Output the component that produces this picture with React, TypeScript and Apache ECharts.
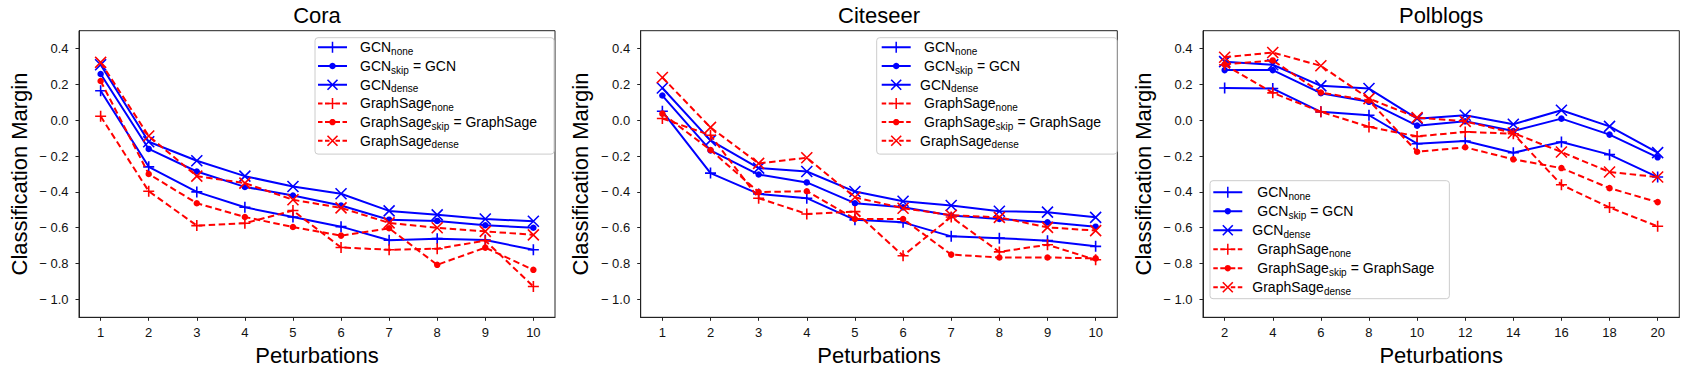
import React, { useEffect, useRef } from 'react';
import * as echarts from 'echarts';

// ---------------- data ----------------
const coraX = [1, 2, 3, 4, 5, 6, 7, 8, 9, 10];
const citeX = [1, 2, 3, 4, 5, 6, 7, 8, 9, 10];
const polX = [2, 4, 6, 8, 10, 12, 14, 16, 18, 20];

const coraTicksX = [1, 2, 3, 4, 5, 6, 7, 8, 9, 10];
const citeTicksX = [1, 2, 3, 4, 5, 6, 7, 8, 9, 10];
const polTicksX = [2, 4, 6, 8, 10, 12, 14, 16, 18, 20];
const yTicks = [-1.0, -0.8, -0.6, -0.4, -0.2, 0.0, 0.2, 0.4];

const titles = ['Cora', 'Citeseer', 'Polblogs'];

const coraGcnNone = [0.165, -0.26, -0.4, -0.486, -0.54, -0.594, -0.67, -0.661, -0.669, -0.723];
const coraGcnSkip = [0.258, -0.16, -0.286, -0.372, -0.42, -0.476, -0.555, -0.562, -0.586, -0.6];
const coraGcnDense = [0.31, -0.12, -0.226, -0.312, -0.37, -0.41, -0.506, -0.528, -0.551, -0.564];
const coraSageNone = [0.022, -0.396, -0.588, -0.575, -0.504, -0.71, -0.723, -0.717, -0.672, -0.928];
const coraSageSkip = [0.219, -0.3, -0.463, -0.54, -0.596, -0.644, -0.603, -0.807, -0.711, -0.835];
const coraSageDense = [0.323, -0.088, -0.312, -0.351, -0.444, -0.489, -0.573, -0.6, -0.62, -0.64];

const citeGcnNone = [0.05, -0.295, -0.411, -0.435, -0.556, -0.57, -0.648, -0.658, -0.672, -0.704];
const citeGcnSkip = [0.138, -0.168, -0.303, -0.347, -0.463, -0.486, -0.532, -0.551, -0.57, -0.594];
const citeGcnDense = [0.18, -0.112, -0.267, -0.286, -0.398, -0.452, -0.476, -0.508, -0.513, -0.542];
const citeSageNone = [0.01, -0.084, -0.435, -0.523, -0.51, -0.756, -0.54, -0.735, -0.695, -0.779];
const citeSageSkip = [0.037, -0.166, -0.401, -0.396, -0.551, -0.551, -0.75, -0.766, -0.766, -0.771];
const citeSageDense = [0.239, -0.04, -0.241, -0.209, -0.43, -0.491, -0.53, -0.542, -0.598, -0.616];

const polGcnNone = [0.18, 0.177, 0.047, 0.028, -0.131, -0.116, -0.181, -0.121, -0.192, -0.317];
const polGcnSkip = [0.28, 0.28, 0.151, 0.103, -0.03, -0.006, -0.06, 0.009, -0.08, -0.207];
const polGcnDense = [0.327, 0.31, 0.192, 0.177, 0.009, 0.028, -0.022, 0.056, -0.034, -0.181];
const polSageNone = [0.31, 0.153, 0.047, -0.037, -0.09, -0.065, -0.075, -0.36, -0.487, -0.592];
const polSageSkip = [0.312, 0.334, 0.155, 0.11, -0.176, -0.151, -0.218, -0.267, -0.379, -0.457];
const polSageDense = [0.352, 0.378, 0.304, 0.121, 0.015, -0.006, -0.071, -0.177, -0.289, -0.317];

const seriesKeys = ['gcn_none', 'gcn_skip', 'gcn_dense', 'sage_none', 'sage_skip', 'sage_dense'];

const panels = [
  { x: coraX, ticks: coraTicksX, min: 0.55, max: 10.45, ys: [coraGcnNone, coraGcnSkip, coraGcnDense, coraSageNone, coraSageSkip, coraSageDense] },
  { x: citeX, ticks: citeTicksX, min: 0.55, max: 10.45, ys: [citeGcnNone, citeGcnSkip, citeGcnDense, citeSageNone, citeSageSkip, citeSageDense] },
  { x: polX, ticks: polTicksX, min: 1.1, max: 20.9, ys: [polGcnNone, polGcnSkip, polGcnDense, polSageNone, polSageSkip, polSageDense] },
];

// ---------------- styles ----------------
const FONT = '"Liberation Sans", Arial, Helvetica, sans-serif';
const BLUE = '#0000ff';
const RED = '#ff0000';
const PLUS = 'path://M0,5L10,5M5,0L5,10';
const CROSS = 'path://M0,0L10,10M0,10L10,0';

const gridsPos = [
  { left: 79, top: 30.7, width: 476, height: 286.6 },
  { left: 640.7, top: 30.7, width: 476.6, height: 286.6 },
  { left: 1203, top: 30.7, width: 476.3, height: 286.6 },
];

function f(n: number) {
  return Math.round(n * 100) / 100;
}
function rect(x0: number, y0: number, x1: number, y1: number) {
  return `M${x0},${y0}L${x1},${y0}L${x1},${y1}L${x0},${y1}Z`;
}
function seg(x1: number, y1: number, x2: number, y2: number, w: number) {
  const dx = x2 - x1;
  const dy = y2 - y1;
  const l = Math.sqrt(dx * dx + dy * dy);
  const nx = (-dy / l) * (w / 2);
  const ny = (dx / l) * (w / 2);
  return `M${f(x1 - nx)},${f(y1 - ny)}L${f(x2 - nx)},${f(y2 - ny)}L${f(x2 + nx)},${f(y2 + ny)}L${f(x1 + nx)},${f(y1 + ny)}Z`;
}
function circ(cx: number, cy: number, r: number) {
  let s = '';
  for (let k = 0; k < 20; k++) {
    const t = (2 * Math.PI * k) / 20;
    s += (k === 0 ? 'M' : 'L') + f(cx + r * Math.cos(t)) + ',' + f(cy + r * Math.sin(t));
  }
  return s + 'Z';
}
const solidLine = rect(0, 5, 29, 7);
const dashLine = rect(0, 5, 4.5, 7) + rect(7, 5, 11.5, 7) + rect(17.5, 5, 22, 7) + rect(24.5, 5, 29, 7);
const plusIcon = rect(13.75, 0.5, 15.25, 11.5) + rect(9, 5.25, 20, 6.75);
const crossIcon = seg(9.5, 1, 19.5, 11, 1.6) + seg(9.5, 11, 19.5, 1, 1.6);
const dotIcon = circ(14.5, 6, 3.2);

const styleFor = [
  { color: BLUE, dash: false, symbol: PLUS, size: 11, icon: 'path://' + solidLine + plusIcon },
  { color: BLUE, dash: false, symbol: 'circle', size: 6.5, icon: 'path://' + solidLine + dotIcon },
  { color: BLUE, dash: false, symbol: CROSS, size: 11, icon: 'path://' + solidLine + crossIcon },
  { color: RED, dash: true, symbol: PLUS, size: 11, icon: 'path://' + dashLine + plusIcon },
  { color: RED, dash: true, symbol: 'circle', size: 6.5, icon: 'path://' + dashLine + dotIcon },
  { color: RED, dash: true, symbol: CROSS, size: 11, icon: 'path://' + dashLine + crossIcon },
];

function yFmt(v: number) {
  const a = Math.abs(v).toFixed(1);
  return v < -1e-9 ? '\u2212 ' + a : a;
}

const legendPos = [
  { left: 315, top: 37.7, padding: [2.6, 17, 4.3, 3], gap: 2.7, textPad: 8, indent: [0, 0, 0, 0, 0, 0] },
  { left: 876.7, top: 37.7, padding: [2.6, 16, 4.3, 5], gap: 2.7, textPad: 4.3, indent: [4, 4, 0, 4, 4, 0] },
  { left: 1210, top: 180.7, padding: [4.5, 15, 2.5, 3.3], gap: 3, textPad: 5, indent: [5, 5, 0, 5, 5, 0] },
];

function legendFormatter(indent: number[]) {
  return (name: string) => {
    const i = seriesKeys.indexOf(name);
    const m = indent[i] > 0 ? (indent[i] === 4 ? 'm4' : 'm5') : 'm';
    switch (name) {
      case 'gcn_none':
        return `{${m}|GCN}{s|none}`;
      case 'gcn_skip':
        return `{${m}|GCN}{s|skip}{eq|= GCN}`;
      case 'gcn_dense':
        return `{${m}|GCN}{s|dense}`;
      case 'sage_none':
        return `{${m}|GraphSage}{s|none}`;
      case 'sage_skip':
        return `{${m}|GraphSage}{s|skip}{eq|= GraphSage}`;
      default:
        return `{${m}|GraphSage}{s|dense}`;
    }
  };
}

const richStyles = {
  m: { fontSize: 14, fontFamily: FONT, color: '#000', lineHeight: 18 },
  m4: { fontSize: 14, fontFamily: FONT, color: '#000', lineHeight: 18, padding: [0, 0, 0, 4] },
  m5: { fontSize: 14, fontFamily: FONT, color: '#000', lineHeight: 18, padding: [0, 0, 0, 5] },
  eq: { fontSize: 14, fontFamily: FONT, color: '#000', lineHeight: 18, padding: [0, 0, 0, 4] },
  s: { fontSize: 10, fontFamily: FONT, color: '#000', lineHeight: 12, verticalAlign: 'bottom' },
};

function buildOption() {
  const grid = gridsPos.map((g) => ({
    ...g,
    show: true,
    borderColor: '#222',
    borderWidth: 1,
    backgroundColor: 'transparent',
    containLabel: false,
    outerBoundsMode: 'none',
  }));

  const xAxis = panels.map((p, i) => ({
    type: 'value',
    gridIndex: i,
    min: p.min,
    max: p.max,
    name: 'Peturbations',
    nameLocation: 'middle',
    nameGap: 24,
    nameTextStyle: { fontSize: 22, fontFamily: FONT, color: '#000' },
    axisLine: { show: true, onZero: false, lineStyle: { color: '#222', width: 1 } },
    axisTick: { show: true, length: 3.5, customValues: p.ticks, lineStyle: { color: '#222', width: 1 } },
    axisLabel: {
      customValues: p.ticks,
      margin: 9,
      fontSize: 13,
      fontFamily: FONT,
      color: '#111',
      formatter: (v: number) => String(v),
    },
    splitLine: { show: false },
  }));

  const yAxis = panels.map((_p, i) => ({
    type: 'value',
    gridIndex: i,
    min: -1.1,
    max: 0.5,
    name: 'Classification Margin',
    nameLocation: 'middle',
    nameGap: 49,
    nameTextStyle: { fontSize: 22, fontFamily: FONT, color: '#000' },
    axisLine: { show: true, onZero: false, lineStyle: { color: '#222', width: 1 } },
    axisTick: { show: true, length: 3.5, customValues: yTicks, lineStyle: { color: '#222', width: 1 } },
    axisLabel: {
      customValues: yTicks,
      margin: 10.5,
      fontSize: 13,
      fontFamily: FONT,
      color: '#111',
      formatter: (v: number) => yFmt(v),
    },
    splitLine: { show: false },
  }));

  const series: any[] = [];
  panels.forEach((p, pi) => {
    p.ys.forEach((vals, si) => {
      const st = styleFor[si];
      series.push({
        type: 'line',
        name: seriesKeys[si],
        xAxisIndex: pi,
        yAxisIndex: pi,
        data: p.x.map((xv, k) => [xv, vals[k]]),
        symbol: st.symbol,
        symbolSize: st.size,
        showSymbol: true,
        showAllSymbol: true,
        lineStyle: { color: st.color, width: 2, type: st.dash ? [6.5, 3.5] : 'solid' },
        itemStyle: {
          color: st.color,
          borderColor: st.color,
          borderWidth: st.symbol === 'circle' ? 0 : 1.6,
        },
        emphasis: { disabled: true },
        z: 2 + si,
      });
    });
  });

  const legend = legendPos.map((lp) => ({
    orient: 'vertical',
    left: lp.left,
    top: lp.top,
    padding: lp.padding,
    itemGap: lp.gap,
    itemWidth: 29,
    itemHeight: 12,
    borderColor: '#cccccc',
    borderWidth: 1,
    borderRadius: 3,
    backgroundColor: 'rgba(255,255,255,0.8)',
    selectedMode: false,
    itemStyle: { borderWidth: 0 },
    data: seriesKeys.map((k, i) => ({ name: k, icon: styleFor[i].icon })),
    formatter: legendFormatter(lp.indent),
    textStyle: { padding: [0, 0, 0, lp.textPad], rich: richStyles },
  }));

  const graphic = titles.map((t, i) => ({
    type: 'text',
    x: gridsPos[i].left + gridsPos[i].width / 2,
    y: 15,
    style: {
      text: t,
      font: `22px ${FONT}`,
      fill: '#000',
      align: 'center',
      verticalAlign: 'middle',
    },
  }));

  return {
    animation: false,
    backgroundColor: '#ffffff',
    grid,
    xAxis,
    yAxis,
    series,
    legend,
    graphic,
  };
}

export default function App() {
  const ref = useRef<HTMLDivElement>(null);
  useEffect(() => {
    if (!ref.current) return;
    const chart = echarts.init(ref.current, undefined, { renderer: 'svg' });
    chart.setOption(buildOption() as any);
    return () => {
      chart.dispose();
    };
  }, []);
  return (
    <div
      ref={ref}
      style={{ position: 'absolute', left: 0, top: 0, width: '1689px', height: '369px', background: '#fff' }}
    />
  );
}
